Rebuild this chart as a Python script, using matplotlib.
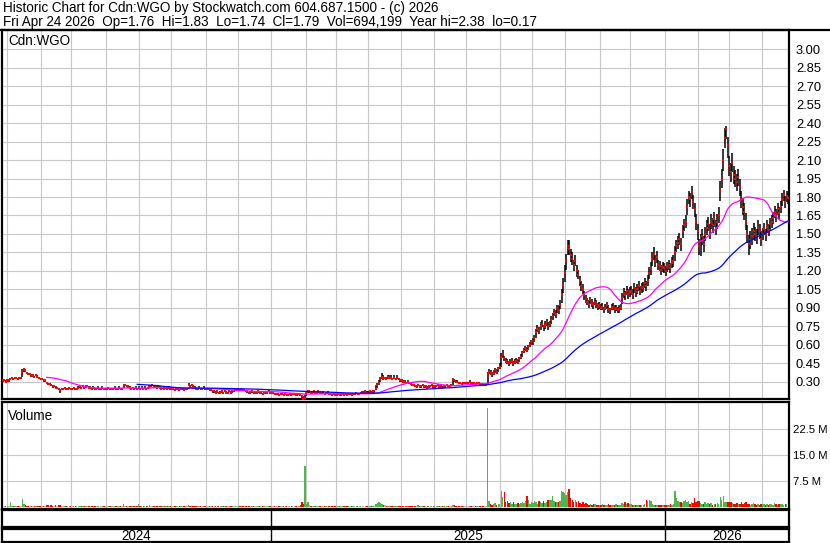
import numpy as np
import pandas as pd
import matplotlib
matplotlib.use('Agg')
import matplotlib.pyplot as plt
from matplotlib.lines import Line2D

plt.rcParams['font.family'] = ['Liberation Sans', 'DejaVu Sans']

# Daily data, one row of values per month (Apr 2024 .. Apr 2026)
# closes in cents
close_c = [
    31, 31, 30,
    31, 31, 32, 33, 32, 33, 33, 32, 33, 33, 38, 40, 39, 37, 36, 36, 35, 35, 34, 35, 34, 33, 32,
    32, 31, 31, 29, 28, 28, 27, 26, 26, 25, 25, 24, 23, 24, 24, 25, 24, 24, 25, 24,
    24, 25, 24, 24, 25, 26, 25, 26, 25, 26, 26, 25, 25, 24, 25, 24, 24, 25, 24, 24, 25, 24, 24,
    24, 25, 24, 24, 24, 25, 24, 24, 25, 24, 24, 27, 27, 26, 26, 25, 24, 25, 24, 25, 24, 25,
    24, 25, 24, 25, 24, 25, 26, 26, 27, 26, 26, 25, 26, 25, 24, 25, 24, 25, 24, 25, 24,
    24, 24, 23, 24, 24, 23, 24, 24, 23, 24, 24, 27, 26, 27, 26, 25, 24, 24, 25, 24, 24, 25, 24,
    24, 24, 23, 23, 22, 22, 21, 22, 21, 21, 22, 21, 22, 21, 21, 22, 21, 22, 22, 23, 23,
    24, 23, 24, 23, 23, 22, 22, 21, 21, 22, 21, 21, 21, 22, 21, 21, 20, 21, 21, 21, 22, 21,
    21, 21, 20, 20, 20, 19, 20, 20, 19, 20, 19, 19, 20, 19, 20, 20, 19, 19, 20, 19, 18, 16, 17,
    21, 22, 22, 21, 21, 22, 21, 21, 22, 21, 21, 21, 20, 21, 21, 20, 20, 19, 20, 19,
    19, 20, 19, 19, 20, 19, 20, 19, 20, 20, 19, 20, 20, 21, 20, 20, 21, 21, 21, 22, 21,
    21, 22, 21, 22, 22, 25, 27, 29, 32, 34, 33, 33, 32, 33, 34, 33, 32, 33, 32, 33, 32, 31,
    31, 30, 30, 29, 30, 29, 28, 27, 27, 26, 26, 27, 26, 26, 27, 26, 26, 25, 26, 26, 27, 26,
    26, 26, 27, 26, 26, 25, 26, 26, 27, 26, 26, 27, 32, 31, 30, 30, 29, 29, 28, 29, 29,
    29, 29, 30, 29, 29, 29, 28, 29, 29, 28, 28, 27, 27, 27, 36, 38, 37, 36, 37, 39, 38, 40, 42,
    50, 52, 49, 47, 46, 45, 46, 47, 45, 46, 47, 46, 48, 50, 53, 55, 57, 56, 58, 60, 62,
    63, 65, 70, 73, 72, 75, 77, 74, 76, 78, 75, 77, 80, 83, 86, 85, 89, 88, 92, 100, 108, 118,
    128, 140, 138, 133, 130, 125, 128, 120, 117, 112, 108, 105, 100, 97, 95, 93, 96, 94, 92, 95, 93, 91, 92,
    90, 91, 89, 90, 92, 89, 88, 90, 91, 89, 90, 88, 89, 90, 98, 102, 100, 104, 101, 103,
    104, 101, 106, 103, 105, 108, 104, 106, 107, 110, 108, 112, 118, 122, 130, 134, 128, 131, 125, 124, 121, 123, 122,
    120, 123, 125, 122, 126, 128, 135, 140, 143, 146, 142, 152, 157, 160, 172, 180, 178, 184, 176, 170, 160, 152,
    140, 144, 148, 142, 150, 155, 158, 152, 160, 157, 162, 155, 160, 165, 185, 195, 210, 228, 235, 222,
    205, 200, 208, 198, 195, 192, 196, 188, 178, 172, 168, 160, 150, 142, 145, 148, 152, 150, 148, 155, 152, 146,
    150, 154, 149, 156, 153, 158, 160, 163, 168, 165, 170, 167, 172, 178, 182, 176, 181, 179,
]

# day high above close, in cents
high_add = [
    1, 1, 1,
    1, 0, 1, 1, 0, 1, 1, 0, 1, 1, 2, 1, 1, 1, 1, 0, 1, 1, 0, 1, 1, 0, 1,
    1, 1, 0, 1, 1, 1, 0, 1, 1, 1, 0, 1, 1, 1, 1, 0, 1, 1, 0, 1,
    1, 0, 1, 1, 1, 1, 0, 1, 1, 0, 1, 1, 1, 0, 1, 1, 0, 1, 1, 0, 1, 1, 0,
    1, 0, 1, 1, 0, 1, 1, 0, 1, 1, 0, 1, 1, 1, 0, 1, 1, 0, 1, 1, 0, 1,
    1, 1, 0, 1, 1, 0, 1, 1, 1, 0, 1, 1, 0, 1, 1, 0, 1, 1, 0, 1, 1,
    1, 0, 1, 1, 0, 1, 1, 0, 1, 1, 0, 2, 1, 1, 0, 1, 1, 0, 1, 1, 0, 1, 1,
    1, 1, 0, 1, 1, 0, 1, 1, 0, 1, 1, 0, 1, 1, 0, 1, 1, 0, 1, 1, 1,
    1, 0, 1, 1, 0, 1, 1, 0, 1, 1, 0, 1, 1, 0, 1, 1, 0, 1, 1, 0, 1, 1,
    1, 0, 1, 1, 0, 1, 1, 0, 1, 1, 0, 1, 1, 0, 1, 1, 0, 1, 1, 1, 1, 2, 2,
    1, 1, 1, 1, 0, 1, 1, 0, 1, 1, 0, 1, 1, 0, 1, 1, 0, 1, 1, 0,
    1, 0, 1, 1, 0, 1, 1, 0, 1, 1, 0, 1, 1, 0, 1, 1, 0, 1, 1, 0, 1,
    1, 0, 1, 1, 1, 2, 2, 2, 2, 3, 2, 1, 2, 2, 1, 2, 1, 2, 1, 2, 1, 1,
    1, 1, 1, 1, 1, 1, 1, 1, 0, 1, 1, 1, 1, 0, 1, 1, 1, 1, 0, 1, 1, 1,
    1, 1, 1, 0, 1, 1, 1, 0, 1, 1, 1, 0, 1, 1, 1, 1, 1, 0, 1, 1, 1,
    1, 1, 1, 1, 0, 1, 1, 1, 1, 0, 1, 1, 1, 0, 2, 2, 2, 2, 2, 2, 2, 2, 3,
    3, 4, 2, 2, 2, 2, 2, 2, 2, 2, 2, 2, 2, 2, 2, 2, 2, 2, 2, 2, 2,
    2, 3, 3, 3, 2, 3, 3, 2, 3, 3, 3, 2, 3, 3, 3, 3, 3, 4, 4, 5, 6, 7,
    6, 5, 7, 5, 5, 4, 5, 5, 4, 4, 4, 4, 4, 3, 3, 3, 3, 3, 3, 3, 3, 3, 3,
    3, 3, 2, 3, 3, 3, 2, 3, 3, 3, 2, 3, 3, 3, 4, 4, 4, 4, 4, 4,
    4, 4, 4, 4, 4, 4, 4, 4, 4, 4, 4, 5, 5, 5, 5, 5, 5, 5, 4, 4, 4, 4, 4,
    4, 4, 4, 4, 5, 5, 5, 5, 5, 5, 5, 5, 5, 5, 6, 5, 5, 5, 6, 5, 6, 6,
    6, 6, 6, 6, 6, 6, 6, 6, 6, 6, 6, 6, 6, 7, 8, 8, 9, 8, 3, 7,
    8, 8, 8, 7, 7, 7, 7, 7, 7, 7, 7, 7, 7, 7, 7, 7, 7, 6, 6, 6, 6, 6,
    5, 5, 5, 5, 5, 5, 5, 5, 5, 5, 5, 5, 5, 5, 4, 5, 4, 4,
]

# day low below close, in cents
low_sub = [
    1, 0, 1,
    1, 1, 0, 1, 1, 0, 1, 1, 0, 1, 4, 2, 1, 1, 1, 0, 1, 1, 1, 0, 1, 1, 1,
    1, 1, 1, 1, 1, 0, 1, 1, 0, 1, 1, 1, 2, 1, 0, 1, 1, 0, 1, 1,
    0, 1, 1, 0, 1, 1, 1, 0, 1, 1, 0, 1, 1, 1, 0, 1, 1, 1, 0, 1, 1, 0, 1,
    1, 1, 0, 1, 1, 0, 1, 1, 0, 1, 1, 2, 1, 0, 1, 1, 0, 1, 1, 0, 1, 1,
    0, 1, 1, 0, 1, 1, 1, 0, 1, 1, 0, 1, 1, 1, 0, 1, 1, 0, 1, 1, 0,
    1, 1, 0, 1, 1, 0, 1, 1, 0, 1, 1, 1, 1, 0, 1, 1, 0, 1, 1, 0, 1, 1, 0,
    0, 1, 1, 0, 1, 1, 0, 1, 1, 0, 1, 1, 0, 1, 1, 0, 1, 1, 0, 1, 0,
    1, 1, 0, 1, 1, 0, 1, 1, 0, 1, 1, 0, 1, 1, 0, 1, 1, 0, 1, 1, 0, 1,
    1, 1, 0, 1, 1, 0, 1, 1, 0, 1, 1, 0, 1, 1, 0, 1, 1, 0, 1, 1, 1, 1, 1,
    3, 1, 1, 0, 1, 1, 0, 1, 1, 0, 1, 1, 0, 1, 1, 0, 1, 1, 0, 1,
    1, 1, 0, 1, 1, 0, 1, 1, 0, 1, 1, 0, 1, 1, 0, 1, 1, 0, 1, 1, 0,
    1, 1, 0, 1, 1, 2, 2, 2, 2, 2, 2, 1, 1, 1, 2, 1, 1, 1, 1, 1, 1, 1,
    1, 1, 0, 1, 1, 1, 1, 1, 1, 0, 1, 1, 1, 1, 0, 1, 1, 1, 1, 0, 1, 1,
    1, 0, 1, 1, 1, 0, 1, 1, 1, 0, 1, 1, 5, 1, 1, 1, 1, 1, 1, 0, 1,
    1, 1, 1, 0, 1, 1, 1, 0, 1, 1, 1, 1, 0, 1, 9, 2, 2, 2, 2, 2, 2, 2, 2,
    8, 3, 2, 2, 2, 2, 2, 2, 2, 2, 2, 2, 2, 2, 3, 2, 2, 2, 2, 2, 2,
    3, 3, 5, 3, 3, 3, 3, 3, 3, 3, 3, 3, 3, 3, 3, 3, 3, 3, 3, 6, 6, 7,
    7, 7, 5, 6, 5, 5, 4, 5, 4, 4, 4, 4, 4, 3, 3, 3, 3, 3, 3, 3, 3, 3, 3,
    2, 3, 3, 2, 3, 3, 3, 2, 3, 3, 3, 2, 3, 2, 5, 4, 4, 4, 4, 4,
    4, 4, 4, 4, 4, 4, 4, 4, 4, 4, 4, 4, 5, 5, 6, 5, 5, 5, 4, 4, 4, 4, 4,
    4, 4, 4, 4, 4, 5, 7, 5, 5, 5, 6, 5, 5, 5, 7, 6, 6, 6, 6, 6, 7, 7,
    7, 12, 7, 7, 6, 6, 6, 6, 6, 6, 6, 6, 6, 6, 8, 8, 9, 8, 8, 10,
    8, 8, 8, 7, 7, 7, 7, 7, 7, 7, 7, 7, 7, 9, 7, 7, 7, 6, 6, 6, 6, 6,
    5, 5, 5, 5, 5, 5, 5, 5, 5, 5, 5, 5, 5, 5, 5, 5, 5, 5,
]

# daily volume, millions of shares
volume_m = [
    0.3, 0.4, 0.2,
    0.3, 0.2, 1.4, 0.4, 0.3, 0.2, 0.3, 0.2, 0.3, 0.2, 2.3, 0.8, 0.5, 0.4, 0.3, 0.3, 0.2, 0.4, 0.3, 0.2, 0.3, 0.4, 0.3,
    0.3, 0.4, 0.3, 0.5, 0.6, 0.4, 0.5, 0.3, 0.4, 0.5, 0.3, 0.6, 0.7, 0.4, 0.3, 0.2, 0.3, 0.2, 0.3, 0.2,
    0.2, 0.3, 0.2, 0.2, 0.3, 0.4, 0.2, 0.3, 0.2, 0.3, 0.2, 0.2, 0.3, 0.2, 0.2, 0.3, 0.2, 0.2, 0.1, 0.2, 0.3, 0.2, 0.2,
    0.2, 0.3, 0.2, 0.2, 0.2, 0.3, 0.2, 0.2, 0.3, 0.2, 0.2, 0.9, 0.4, 0.3, 0.2, 0.3, 0.2, 0.2, 0.3, 0.2, 0.2, 1.0,
    0.3, 0.2, 0.2, 0.3, 0.2, 0.2, 0.5, 0.3, 0.2, 0.3, 0.2, 0.2, 0.3, 0.2, 0.2, 0.3, 0.2, 0.2, 0.2, 0.3, 0.2,
    0.2, 0.2, 0.3, 0.2, 0.2, 0.3, 0.2, 0.2, 0.3, 0.2, 0.2, 0.6, 0.4, 0.3, 0.2, 0.3, 0.2, 0.2, 0.3, 0.2, 0.2, 0.3, 0.2,
    0.3, 0.2, 0.3, 0.2, 0.4, 0.3, 0.4, 0.3, 0.2, 0.3, 0.2, 0.2, 0.3, 0.2, 0.2, 0.3, 0.2, 0.2, 0.3, 0.4, 0.3,
    0.3, 0.2, 0.3, 0.2, 0.2, 0.3, 0.2, 0.4, 0.3, 0.2, 0.2, 0.3, 0.2, 0.2, 0.3, 0.2, 0.4, 0.3, 0.2, 0.2, 0.3, 0.2,
    0.2, 0.3, 0.2, 0.2, 0.3, 0.2, 0.2, 0.3, 0.2, 0.2, 0.3, 0.2, 0.2, 0.2, 0.3, 0.2, 0.2, 0.3, 0.2, 0.6, 1.3, 0.9, 11.8,
    0.8, 1.3, 0.6, 0.4, 0.3, 0.4, 0.3, 0.2, 0.3, 0.2, 0.3, 0.2, 0.2, 0.3, 0.2, 0.2, 0.3, 0.2, 0.2, 0.3,
    0.2, 0.3, 0.2, 0.2, 0.3, 0.2, 0.2, 0.3, 0.2, 0.2, 0.3, 0.2, 0.3, 0.2, 0.2, 0.3, 0.2, 0.3, 0.4, 0.3, 0.2,
    0.2, 0.3, 0.2, 0.3, 0.2, 0.8, 1.1, 1.3, 1.2, 0.9, 0.6, 0.5, 0.4, 0.4, 0.3, 0.3, 0.4, 0.3, 0.3, 0.4, 0.3, 0.3,
    0.3, 0.2, 0.3, 0.2, 0.3, 0.2, 0.3, 0.2, 0.2, 0.3, 0.2, 0.5, 0.3, 0.2, 0.2, 0.3, 0.2, 0.4, 0.2, 0.3, 0.2, 0.2,
    0.2, 0.3, 0.2, 0.2, 0.3, 0.2, 0.2, 0.3, 0.2, 0.2, 0.3, 0.2, 0.7, 0.5, 0.3, 0.3, 0.2, 0.3, 0.2, 0.2, 0.3,
    0.2, 0.3, 0.2, 0.2, 0.3, 0.2, 0.2, 0.3, 0.2, 0.2, 0.3, 0.2, 0.3, 0.2, 28.6, 1.7, 0.9, 0.6, 0.8, 1.1, 0.7, 1.0, 0.9,
    4.6, 3.0, 4.2, 1.5, 1.6, 1.2, 1.4, 0.9, 1.3, 0.8, 1.0, 1.2, 0.9, 1.1, 1.4, 1.2, 1.6, 3.2, 1.9, 1.0, 1.5,
    1.2, 1.8, 1.4, 1.0, 1.6, 1.3, 1.1, 1.7, 1.2, 1.5, 1.9, 2.1, 2.0, 3.3, 1.6, 1.4, 1.5, 1.3, 1.7, 4.5, 4.2, 4.0,
    3.6, 4.3, 5.2, 2.6, 1.9, 1.5, 2.0, 1.3, 1.8, 1.2, 1.0, 1.4, 0.9, 1.1, 0.8, 0.7, 1.0, 0.6, 0.8, 0.9, 0.5, 0.7, 0.6,
    0.6, 0.8, 0.5, 0.7, 0.6, 0.9, 0.5, 0.6, 0.7, 0.5, 0.8, 0.6, 0.5, 0.7, 1.2, 1.0, 1.4, 0.9, 1.1, 0.8,
    0.9, 0.7, 0.6, 0.5, 0.7, 0.6, 0.5, 0.6, 0.7, 0.8, 1.9, 1.8, 2.0, 1.6, 0.8, 0.6, 0.7, 0.5, 0.6, 0.5, 0.7, 0.6, 0.5,
    0.6, 0.7, 0.5, 0.8, 0.6, 0.9, 4.7, 2.7, 1.6, 1.4, 1.5, 1.2, 1.7, 1.9, 1.3, 1.6, 1.0, 1.4, 1.1, 2.6, 1.5, 1.8,
    1.6, 1.2, 1.0, 0.9, 1.3, 0.8, 1.1, 0.9, 1.2, 0.7, 1.0, 0.8, 1.1, 0.9, 2.8, 1.9, 3.1, 1.5, 1.4, 1.5,
    1.5, 1.4, 1.2, 1.0, 0.9, 1.1, 0.8, 1.0, 1.4, 0.9, 1.2, 1.3, 0.8, 1.0, 0.7, 0.9, 1.1, 0.8, 0.7, 0.9, 0.6, 0.8,
    0.8, 0.9, 0.6, 1.0, 0.7, 0.8, 0.9, 0.6, 1.1, 0.8, 0.7, 0.9, 1.0, 0.8, 0.7, 0.9, 0.8, 0.7,
]

last_day = '2026-04-24'
price_ticks = [0.30, 0.45, 0.60, 0.75, 0.90, 1.05, 1.20, 1.35, 1.50, 1.65, 1.80, 1.95,
               2.10, 2.25, 2.40, 2.55, 2.70, 2.85, 3.00]
vol_ticks = [7.5, 15.0, 22.5]
vol_labels = ['7.5 M', '15.0 M', '22.5 M']
header1 = 'Historic Chart for Cdn:WGO by Stockwatch.com 604.687.1500 - (c) 2026'
header2 = ('Fri Apr 24 2026  Op=1.76  Hi=1.83  Lo=1.74  Cl=1.79  Vol=694,199  '
           'Year hi=2.38  lo=0.17')

# ---- derived series
close = np.array(close_c) / 100.0
high = (np.array(close_c) + np.array(high_add)) / 100.0
low = (np.array(close_c) - np.array(low_sub)) / 100.0
vol = np.array(volume_m)
n = len(close)
idx = np.arange(n)
dates = pd.bdate_range(end=last_day, periods=n)

ma_short = pd.Series(close).rolling(30).mean()
ma_long = pd.Series(close).rolling(90).mean()

chg = np.diff(close, prepend=close[0])
GREEN, RED, GREY = '#4cb84c', '#ff0000', '#b4b4b4'
vol_colors = np.where(chg > 0, GREEN, np.where(chg < 0, RED, GREY))

new_month = np.r_[False, dates.month[1:] != dates.month[:-1]]
new_year = np.r_[False, dates.year[1:] != dates.year[:-1]]
month_pos = idx[new_month] - 0.5
year_pos = idx[new_year] - 0.5

# ---- layout in pixels
W, H = 830, 543
fig = plt.figure(figsize=(W / 100, H / 100), dpi=100)


def rect(x0, y0, x1, y1):
    return [x0 / W, 1 - y1 / H, (x1 - x0) / W, (y1 - y0) / H]


GRID = '#c8c8c8'
ax = fig.add_axes(rect(2, 30, 789, 399))
axv = fig.add_axes(rect(2, 402, 789, 509))
axb = fig.add_axes(rect(2, 510, 789, 527))
axy = fig.add_axes(rect(2, 529, 789, 542))

for a in (ax, axv, axb, axy):
    a.set_xlim(-0.5, n - 0.5)
    for s in a.spines.values():
        s.set_linewidth(1.6)
        s.set_color('black')
    a.tick_params(axis='x', length=0, labelbottom=False)

# price panel
ax.set_xticks(month_pos)
ax.set_yticks(price_ticks)
ax.set_yticklabels([f'{v:.2f}' for v in price_ticks])
ax.yaxis.tick_right()
ax.tick_params(axis='y', length=0, pad=5, labelsize=9.25)
ax.grid(True, color=GRID, lw=0.8)
ax.set_axisbelow(True)
ax.set_ylim(0.158, 3.158)

ax.vlines(idx, low, high, colors='black', lw=1.1, zorder=2)
ax.scatter(idx, close, marker='s', s=2.6, c='#ff0000', linewidths=0, zorder=3)
ax.plot(idx, ma_short, color='#ff00ff', lw=0.9, zorder=4)
ax.plot(idx, ma_long, color='#0000ff', lw=0.9, zorder=4)
ax.text(0.008, 0.988, 'Cdn:WGO', transform=ax.transAxes, ha='left', va='top', fontsize=9.75)

# volume panel
axv.set_xticks(month_pos)
axv.set_yticks(vol_ticks)
axv.set_yticklabels(vol_labels)
axv.yaxis.tick_right()
axv.tick_params(axis='y', length=0, pad=3, labelsize=8.1)
axv.grid(True, color=GRID, lw=0.8)
axv.set_axisbelow(True)
axv.set_ylim(-0.58, 30.3)
axv.bar(idx, vol, width=0.95, color=vol_colors, linewidth=0, zorder=2, antialiased=False)
axv.text(0.008, 0.93, 'Volume', transform=axv.transAxes, ha='left', va='top', fontsize=9.75)

# date bands
for a in (axb, axy):
    a.set_yticks([])
    a.set_ylim(0, 1)
    a.vlines(year_pos, 0, 1, colors='black', lw=1.0)
edges = np.r_[-0.5, year_pos, n - 0.5]
for i in range(len(edges) - 1):
    axy.text((edges[i] + edges[i + 1]) / 2, 0.45, str(dates[int(edges[i] + 0.5)].year),
             ha='center', va='center', fontsize=9.75)

# header
fig.text(3 / W, 1 - 8 / H, header1, ha='left', va='center', fontsize=9.75)
fig.text(3 / W, 1 - 22 / H, header2, ha='left', va='center', fontsize=9.75)
fig.add_artist(Line2D([0, 1], [1 - 30 / H, 1 - 30 / H], color='black', lw=1.6))

fig.savefig('out.png', dpi=100)
